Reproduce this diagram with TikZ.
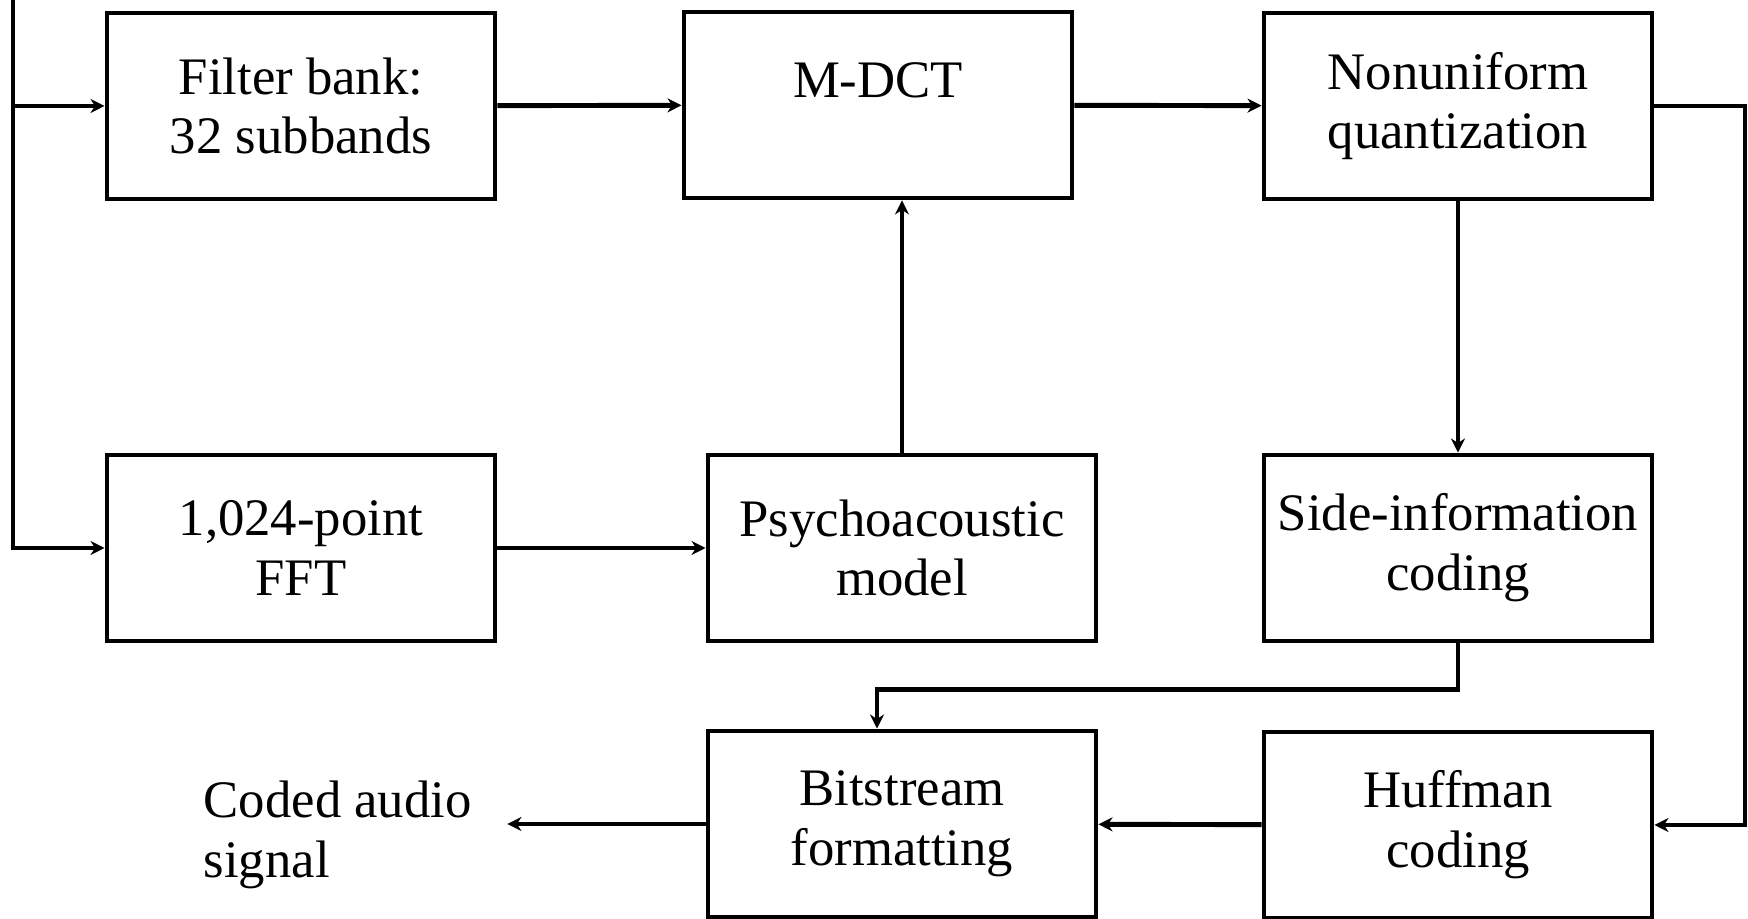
\documentclass[tikz,border=0pt]{standalone}
\usepackage{fontspec}
\setmainfont{Liberation Serif}
\usetikzlibrary{arrows.meta, calc}
\tikzset{
    box/.style  ={draw, line width=1.4pt, align=center, inner sep=2pt,
                  minimum width=3.88cm, minimum height=1.86cm,
                  font=\fontsize{15}{17}\selectfont},
    wire/.style ={line width=1.4pt},
    arr/.style  ={wire, -{Stealth[length=4pt, width=4pt]}},
    lbl/.style  ={align=left, inner sep=2pt, font=\fontsize{15}{17}\selectfont},
}

\begin{document}
\begin{tikzpicture}[x=1cm, y=1cm]
\useasboundingbox (0,0) rectangle (17.48,9.19);

% ===================== Fila superior =====================
\node[box] (fb)   at (3.01,8.13)  {Filter bank:\\32 subbands};
\node[box, text depth=14pt] (mdct) at (8.78,8.14) {M-DCT};
\node[box] (nq)   at (14.58,8.13) {Nonuniform\\quantization};

% ===================== Fila central =====================
\node[box] (fft)  at (3.01,3.71)  {1,024-point\\FFT};
\node[box] (psy)  at (9.02,3.71)  {Psychoacoustic\\model};
\node[box] (side) at (14.58,3.71) {Side-information\\coding};

% ===================== Fila inferior =====================
\node[box] (bit)  at (9.02,0.95)  {Bitstream\\formatting};
\node[box] (huf)  at (14.58,0.94) {Huffman\\coding};
\node[lbl, anchor=west] (out) at (1.96,0.84) {Coded audio\\signal};
\coordinate (outend) at ($(out.east)+(0.28,0)$);

% ===================== Entrada =====================
\coordinate (in) at (0.13,9.19);
\draw[arr] (in) |- (fft.west);
\draw[arr] (in |- fb.west) -- (fb.west);

% ===================== Caminos =====================
\draw[arr] (fb) -- (mdct);
\draw[arr] (mdct) -- (nq);
\draw[arr] (fft) -- (psy);
\draw[arr] (psy.north) -- (psy.north |- mdct.south);
\draw[arr] (nq) -- (side);

\coordinate (rt) at (17.45,0);
\draw[arr] (nq.east) -| (rt |- huf.east) -- (huf.east);
\draw[arr] (side.south) -- ++(0,-0.46) -| ($(bit.north)+(-0.25,0)$);
\draw[arr] (huf) -- (bit);
\draw[arr] (bit.west) -- (bit.west -| outend);

\end{tikzpicture}
\end{document}
